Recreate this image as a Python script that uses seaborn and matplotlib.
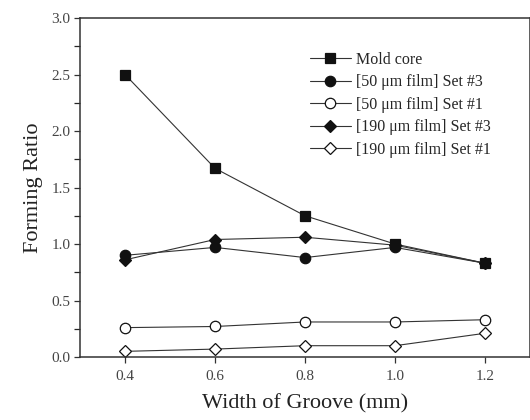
import numpy as np
import pandas as pd
import matplotlib
matplotlib.use("Agg")
import matplotlib.pyplot as plt
import seaborn as sns
from matplotlib.ticker import MultipleLocator

# data
groove_width = [0.4, 0.6, 0.8, 1.0, 1.2]
mold_core = [2.50, 1.67, 1.25, 1.00, 0.83]
film50_set3 = [0.90, 0.97, 0.88, 0.97, 0.83]
film50_set1 = [0.26, 0.27, 0.31, 0.31, 0.33]
film190_set3 = [0.86, 1.04, 1.06, 0.99, 0.83]
film190_set1 = [0.05, 0.07, 0.10, 0.10, 0.21]

series_names = ["Mold core", "[50 \u03bcm film] Set #3", "[50 \u03bcm film] Set #1",
                "[190 \u03bcm film] Set #3", "[190 \u03bcm film] Set #1"]
series_values = [mold_core, film50_set3, film50_set1, film190_set3, film190_set1]

sns.set_theme(style="ticks")
plt.rcParams['font.family'] = ['Liberation Serif', 'DejaVu Serif']

fig = plt.figure(figsize=(5.3, 4.2), dpi=100)
ax = fig.add_axes([0.151, 0.15, 0.849, 0.807])

# marker, filled or not, size
estilos = [("s", True, 7.5), ("o", True, 7.5), ("o", False, 7.5), ("D", True, 6.5), ("D", False, 6.5)]

for nombre, valores, (m, lleno, ms) in zip(series_names, series_values, estilos):
    df = pd.DataFrame({"x": groove_width, "y": valores})
    sns.lineplot(data=df, x="x", y="y", ax=ax, color="#333333", linewidth=0.8,
                 marker=m, markersize=ms, markerfacecolor="#111111" if lleno else "white",
                 markeredgecolor="#111111", markeredgewidth=0.9, label=nombre)

ax.set_xlim(0.3, 1.3)
ax.set_ylim(0, 3.0)
ax.set_xticks(groove_width)
ax.set_xticklabels([f"{v:.1f}" for v in groove_width])
ax.yaxis.set_major_locator(MultipleLocator(0.5))
ax.yaxis.set_minor_locator(MultipleLocator(0.25))
ax.yaxis.set_major_formatter(matplotlib.ticker.FormatStrFormatter('%.1f'))
ax.tick_params(axis='both', labelsize=11, colors="#333333", labelcolor="#444444",
               length=4, width=0.9, pad=3)
ax.tick_params(axis='x', pad=5)
ax.tick_params(axis='y', which='minor', length=4, width=0.9)
for s in ax.spines.values():
    s.set_linewidth(1.1)
    s.set_color("#333333")

ax.set_xlabel("Width of Groove (mm)", fontsize=16, labelpad=8, color="#222222")
ax.set_ylabel("Forming Ratio", fontsize=16, labelpad=6, color="#222222")

leg = ax.legend(loc="upper left", bbox_to_anchor=(0.51, 0.9), frameon=False,
                fontsize=11.5, handlelength=2.6, handletextpad=0.3, labelspacing=0.4,
                borderaxespad=0, borderpad=0)

plt.savefig("out.png", dpi=100)
